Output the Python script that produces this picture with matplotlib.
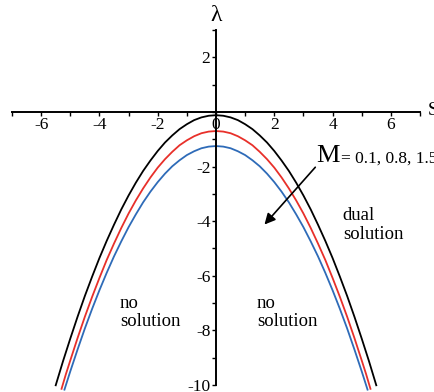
import matplotlib.pyplot as plt
from matplotlib.ticker import MultipleLocator, FixedLocator

plt.rcParams['font.family'] = ['Liberation Serif', 'DejaVu Serif']

# s values (right half, mirrored for the left half)
s_half = [0.0, 0.25, 0.5, 0.75, 1.0, 1.25, 1.5, 1.75, 2.0, 2.25, 2.5,
          2.75, 3.0, 3.25, 3.5, 3.75, 4.0, 4.25, 4.5, 4.75, 5.0]
# lambda for M = 0.1, 0.8, 1.5
lam_black = [-0.12, -0.14, -0.20, -0.30, -0.45, -0.63, -0.86, -1.12, -1.43, -1.78, -2.16,
             -2.59, -3.06, -3.57, -4.13, -4.72, -5.35, -6.03, -6.74, -7.50, -8.30]
lam_red = [-0.70, -0.72, -0.78, -0.89, -1.04, -1.22, -1.46, -1.73, -2.04, -2.40, -2.80,
           -3.24, -3.72, -4.25, -4.82, -5.42, -6.08, -6.77, -7.50, -8.28, -9.10]
lam_blue = [-1.25, -1.27, -1.33, -1.44, -1.58, -1.77, -1.99, -2.26, -2.57, -2.92, -3.31,
            -3.75, -4.22, -4.74, -5.29, -5.89, -6.53, -7.21, -7.93, -8.70, -9.50]
# tail points down to the bottom of the frame
tail_black = [(5.25, -9.13), (5.5, -10.01)]
tail_red = [(5.15, -9.60), (5.3, -10.14)]
tail_blue = [(5.2, -10.17)]

x_ticks = [-6, -4, -2, 0, 2, 4, 6]
y_ticks = [2, -2, -4, -6, -8, -10]


def full_curve(half, lam, tail):
    right_s = half + [p[0] for p in tail]
    right_y = lam + [p[1] for p in tail]
    s = [-v for v in right_s[:0:-1]] + right_s
    y = right_y[:0:-1] + right_y
    return s, y


fig = plt.figure(figsize=(4.35, 3.92), dpi=100)
ax = fig.add_axes([12 / 435, 7 / 392, 408 / 435, 355 / 392])

for lam, tail, col in [(lam_black, tail_black, 'black'),
                       (lam_red, tail_red, '#e8302a'),
                       (lam_blue, tail_blue, '#2e6bb8')]:
    s, y = full_curve(s_half, lam, tail)
    ax.plot(s, y, color=col, lw=1.3, clip_on=False)

ax.set_xlim(-7, 7)
ax.set_ylim(-10, 3)

for side in ['top', 'right']:
    ax.spines[side].set_visible(False)
ax.spines['left'].set_position(('data', 0))
ax.spines['bottom'].set_position(('data', 0))
ax.spines['left'].set_linewidth(1.4)
ax.spines['bottom'].set_linewidth(1.4)

ax.xaxis.set_major_locator(FixedLocator(x_ticks))
ax.xaxis.set_minor_locator(MultipleLocator(1))
ax.yaxis.set_major_locator(FixedLocator(y_ticks))
ax.yaxis.set_minor_locator(MultipleLocator(1))
ax.tick_params(axis='both', which='both', direction='out', length=3, width=1,
               labelsize=12.5, pad=1)
ax.set_xticklabels([str(v) for v in x_ticks])
ax.set_yticklabels([str(v) for v in y_ticks])

ax.text(0, 3.15, 'λ', fontsize=17, ha='center', va='bottom')
ax.text(7.25, 0.05, 'S', fontsize=14, ha='left', va='center', clip_on=False)

ax.text(3.45, -1.85, 'M', fontsize=19, ha='left', va='baseline')
ax.text(4.3, -1.85, '= 0.1, 0.8, 1.5', fontsize=12.5, ha='left', va='baseline', clip_on=False)
ax.annotate('', xy=(1.6, -4.2), xytext=(3.47, -1.95),
            arrowprops=dict(arrowstyle='-|>', color='black', lw=1.2, mutation_scale=16))

ax.text(4.35, -3.5, 'dual\nsolution', fontsize=13.5, ha='left', va='top', linespacing=1.1)
ax.text(-3.3, -6.7, 'no\nsolution', fontsize=13.5, ha='left', va='top', linespacing=1.1)
ax.text(1.4, -6.7, 'no\nsolution', fontsize=13.5, ha='left', va='top', linespacing=1.1)

fig.savefig('out.png', dpi=100)
